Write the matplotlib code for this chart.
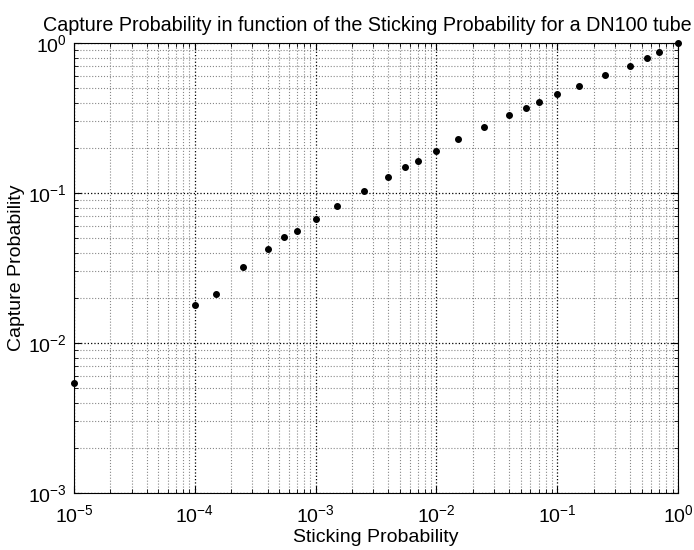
import matplotlib

matplotlib.use("Agg")
import matplotlib.pyplot as plt
from matplotlib.ticker import LogLocator

plt.rcParams["font.family"] = ["Liberation Sans", "DejaVu Sans"]
plt.rcParams["mathtext.fontset"] = "custom"
plt.rcParams["mathtext.rm"] = "Liberation Sans"

# sticking probability vs capture probability (DN100 tube)
sticking = [1e-5, 1e-4, 1.5e-4, 2.5e-4, 4e-4, 5.5e-4, 7e-4,
            1e-3, 1.5e-3, 2.5e-3, 4e-3, 5.5e-3, 7e-3,
            1e-2, 1.5e-2, 2.5e-2, 4e-2, 5.5e-2, 7e-2,
            0.1, 0.15, 0.25, 0.4, 0.55, 0.7, 1.0]
capture = [0.00538, 0.0178, 0.0211, 0.0321, 0.0425, 0.0506, 0.0555,
           0.0671, 0.0814, 0.103, 0.127, 0.148, 0.164,
           0.190, 0.228, 0.277, 0.329, 0.370, 0.402,
           0.459, 0.514, 0.608, 0.706, 0.794, 0.871, 1.0]

fig = plt.figure(figsize=(6.94, 5.5), dpi=100)
ax = fig.add_axes([0.1066, 0.1036, 0.8704, 0.8182])

ax.loglog(sticking, capture, "k.", markersize=8, clip_on=False, zorder=3)

ax.set_xlim(1e-5, 1)
ax.set_ylim(1e-3, 1)
ax.xaxis.set_major_locator(LogLocator(base=10, numticks=10))
ax.yaxis.set_major_locator(LogLocator(base=10, numticks=10))
ax.xaxis.set_minor_locator(LogLocator(base=10, subs=range(2, 10), numticks=20))
ax.yaxis.set_minor_locator(LogLocator(base=10, subs=range(2, 10), numticks=20))

ax.grid(which="major", ls=":", lw=0.9, color="black")
ax.grid(which="minor", ls=":", lw=0.8, color="#888888")
ax.tick_params(which="both", direction="in", top=True, right=True, labelsize=14)
ax.tick_params(which="major", length=5)
ax.tick_params(which="minor", length=3)
ax.tick_params(axis="x", pad=8)
ax.tick_params(axis="y", pad=5)
for s in ax.spines.values():
    s.set_linewidth(0.8)

ax.set_title("Capture Probability in function of the Sticking Probability for a DN100 tube",
             fontsize=14.2, pad=9, x=0.485)
ax.set_xlabel("Sticking Probability", fontsize=14, labelpad=2)
ax.set_ylabel("Capture Probability", fontsize=14, labelpad=2)

fig.savefig("out.png", dpi=100)
